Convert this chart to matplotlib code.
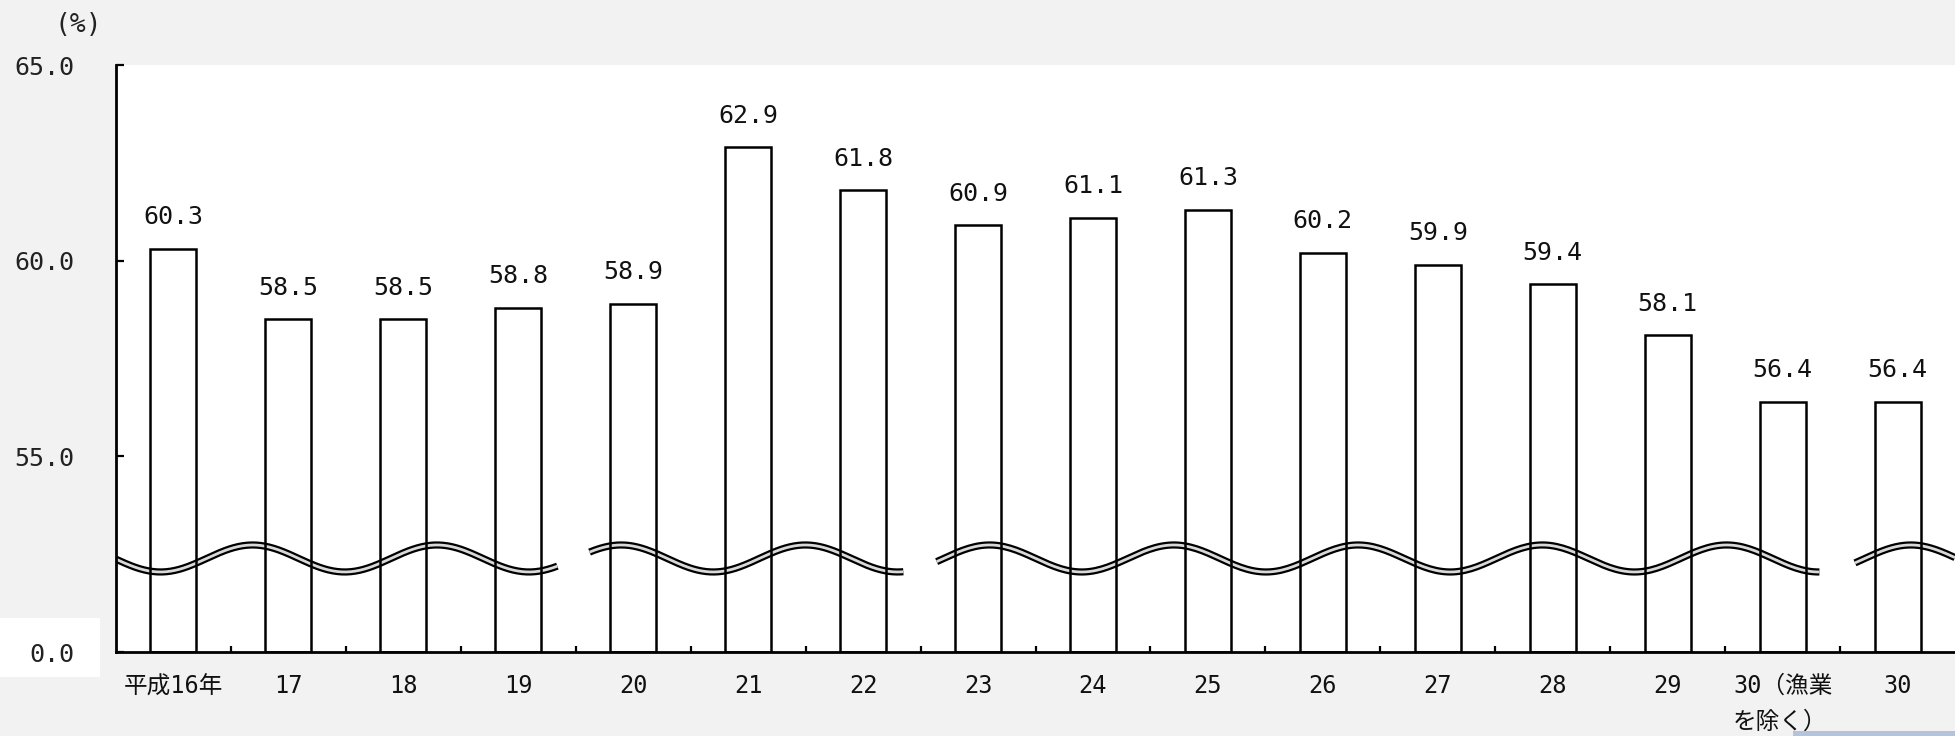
import numpy as np
import matplotlib
matplotlib.use("Agg")
import matplotlib.pyplot as plt
from matplotlib.patches import Rectangle

plt.rcParams['font.family'] = ['DejaVu Sans Mono', 'Noto Sans CJK JP']

years = ['平成16年', '17', '18', '19', '20', '21', '22', '23', '24', '25',
         '26', '27', '28', '29', '30（漁業\nを除く）', '30']
rate = [60.3, 58.5, 58.5, 58.8, 58.9, 62.9, 61.8, 60.9, 61.1, 61.3,
        60.2, 59.9, 59.4, 58.1, 56.4, 56.4]
ytick_vals = [50, 55, 60, 65]
ytick_labels = ['0.0', '55.0', '60.0', '65.0']

# wavy "axis break" pieces (in category units)
wave_pieces = [(-0.5, 3.34), (3.62, 6.35), (6.64, 14.32), (14.63, 15.5)]
wave_mid = 52.39
wave_amp = 0.345
wave_period = 1.603
wave_peak = 0.689

fig = plt.figure(figsize=(19.55, 7.36), dpi=100)
fig.patch.set_facecolor('#f2f2f2')
ax = fig.add_axes([116/1955, 1-652/736, 1-116/1955, (652-65)/736])
ax.set_facecolor('white')

x = np.arange(len(rate))
base = ytick_vals[0]
heights = [v - base for v in rate]
ax.bar(x, heights, bottom=base, width=0.4, facecolor='none',
       edgecolor='black', linewidth=1.8, zorder=3)

for xi, v in zip(x, rate):
    ax.annotate(f'{v:.1f}', (xi, v), xytext=(0, 14), textcoords='offset points',
                ha='center', va='bottom', fontsize=18, color='#111111')

for a, b in wave_pieces:
    xs = np.linspace(a, b, 300)
    ys = wave_mid + wave_amp*np.cos(2*np.pi*(xs - wave_peak)/wave_period)
    ax.plot(xs, ys, color='black', lw=5.2, solid_capstyle='butt', zorder=2)
    ax.plot(xs, ys, color='#d9d9d9', lw=2.0, solid_capstyle='butt', zorder=2.1)

ax.set_xlim(-0.5, len(rate)-0.5)
ax.set_ylim(ytick_vals[0], ytick_vals[-1])

ax.set_xticks(x)
ax.set_xticklabels(years, fontsize=17, multialignment='left', linespacing=1.6,
                   color='#111111')
ax.set_xticks(np.arange(0.5, len(rate)-0.5, 1), minor=True)
ax.tick_params(axis='x', which='major', length=0, pad=16)
ax.tick_params(axis='x', which='minor', direction='in', length=4, width=1.6)

ax.set_yticks(ytick_vals)
ax.set_yticklabels(ytick_labels, fontsize=18, color='#222222')
ax.tick_params(axis='y', direction='in', length=6, width=1.6, pad=30)

for s in ['top', 'right']:
    ax.spines[s].set_visible(False)
for s in ['left', 'bottom']:
    ax.spines[s].set_linewidth(2.0)

fig.text(78/1955, 1-25/736, '(%)', ha='center', va='center', fontsize=19,
         color='#222222')

# white box behind the 0.0 label
fig.add_artist(Rectangle((0, 1-677/736), 100/1955, 59/736, transform=fig.transFigure,
                         facecolor='white', edgecolor='none', zorder=-1))
fig.add_artist(Rectangle((1793/1955, 0), 1-1793/1955, 5/736, transform=fig.transFigure,
                         facecolor='#b4c4dc', edgecolor='none'))

plt.savefig('out.png', dpi=100, facecolor=fig.get_facecolor())
